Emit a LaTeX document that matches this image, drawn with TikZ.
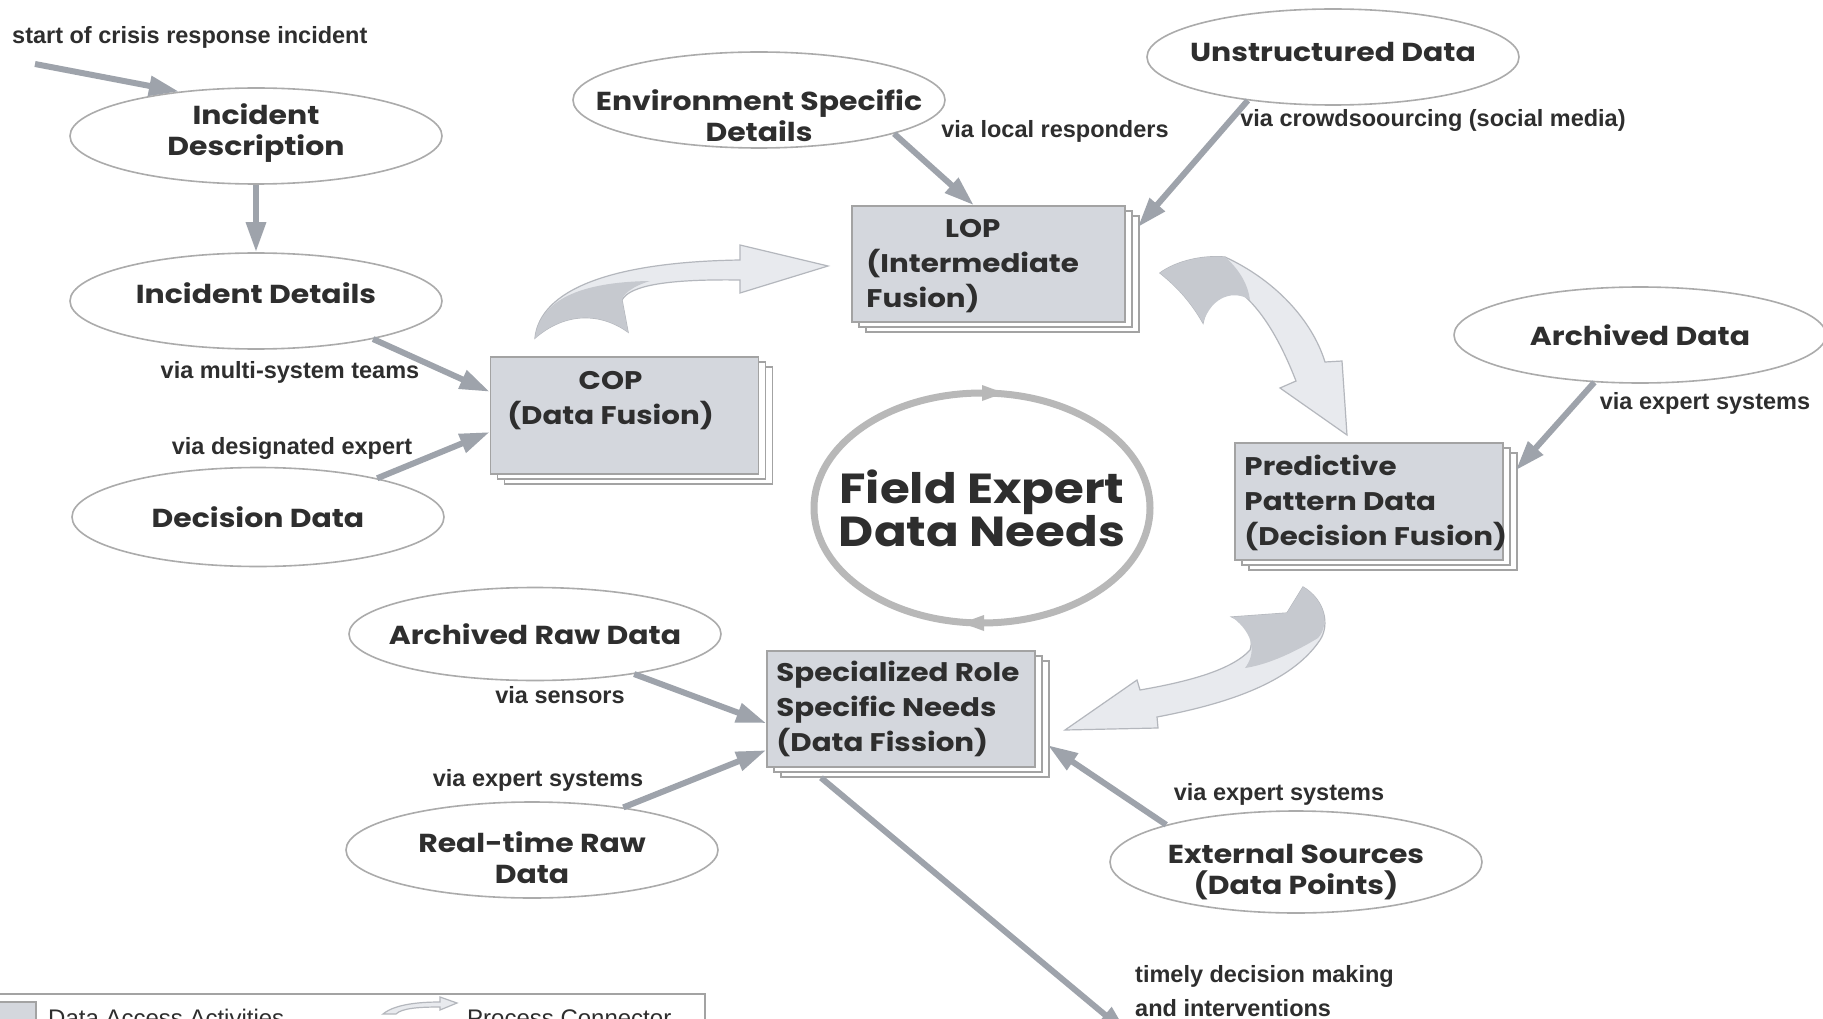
\documentclass[tikz,border=0pt]{standalone}
\usepackage{fontspec}
\setmainfont{Liberation Sans}
\newfontfamily\rndfont{Poppins}[FakeStretch=1.15]
\usetikzlibrary{shapes.geometric,arrows.meta,positioning,shadows}
\definecolor{flowgray}{HTML}{9EA3AB}
\definecolor{ellgray}{HTML}{ABABAB}
\definecolor{boxfill}{HTML}{D4D7DD}
\definecolor{boxline}{HTML}{A3A3A3}
\definecolor{inkdark}{HTML}{2E2E2E}
\definecolor{connlight}{HTML}{E8EAEE}
\definecolor{connedge}{HTML}{B4B7BD}
\definecolor{conndark}{HTML}{C6C9CF}
\definecolor{ringgray}{HTML}{B8B8B8}
\tikzset{
  dataell/.style={ellipse, draw=ellgray, line width=1.6pt, fill=white,
    minimum width=372pt, minimum height=96pt, inner sep=0pt},
  elltext/.style={font=\rndfont\bfseries\fontsize{26}{31}\selectfont,
    text=inkdark, align=center},
  stackbox/.style={rectangle, draw=boxline, line width=1.5pt, fill=boxfill,
    minimum width=268pt, minimum height=116pt,
    copy shadow={shadow xshift=14pt, shadow yshift=-10pt, fill=white, draw=boxline, line width=1.2pt},
    copy shadow={shadow xshift=7pt, shadow yshift=-5pt, fill=white, draw=boxline, line width=1.2pt}},
  boxtext/.style={font=\rndfont\bfseries\fontsize{25.5}{35}\selectfont,
    text=inkdark, inner sep=0pt},
  via/.style={font=\bfseries\fontsize{23.5}{34}\selectfont, text=inkdark, inner sep=0pt},
  legtext/.style={font=\fontsize{24}{28}\selectfont, text=inkdark, inner sep=0pt, anchor=base west},
  flow/.style={draw=flowgray, line width=6pt, -{Triangle[length=30pt,width=19pt]}},
  conn/.style={fill=connlight, draw=connedge, line width=1.2pt},
  connshade/.style={fill=conndark},
}
\begin{document}
\begin{tikzpicture}[x=1pt,y=-1pt]
\clip (0,0) rectangle (1823,1019);
\fill[white] (0,0) rectangle (1823,1019);

% data access ellipses
\node[dataell, label={[elltext, yshift=3pt]center:Incident\\Description}] (idesc) at (256,136) {};
\node[dataell, label={[elltext, yshift=8pt]center:Incident Details}] (idet) at (256,301) {};
\node[dataell, minimum height=99pt, label={[elltext]center:Decision Data}] (ddata) at (258,517) {};
\node[dataell, label={[elltext, yshift=-16pt]center:Environment Specific\\Details}] (envsp) at (759,100) {};
\node[dataell, label={[elltext, yshift=5pt]center:Unstructured Data}] (unstr) at (1333,57) {};
\node[dataell, label={[elltext]center:Archived Data}] (archd) at (1640,335) {};
\node[dataell, minimum height=93pt, label={[elltext]center:Archived Raw Data}] (archraw) at (535,634) {};
\node[dataell, label={[elltext, yshift=-8pt]center:Real-time Raw\\Data}] (rtraw) at (532,850) {};
\node[dataell, minimum height=102pt, label={[elltext, yshift=-10pt]center:External Sources\\(Data Points)}] (extsrc) at (1296,862) {};

% fusion boxes
\node[stackbox, minimum height=117pt] (cop) at (624.5,415.5) {};
\node[boxtext, align=center, below=15pt of cop.north, xshift=-14pt] (coptxt) {COP\\(Data Fusion)};
\node[stackbox, minimum width=273pt] (lop) at (988.5,264) {};
\node[boxtext, below right=8pt and 15pt of lop.north west] (loptxt)
  {\begin{tabular}{@{}l@{}}\multicolumn{1}{@{}c@{}}{LOP}\\(Intermediate\\Fusion)\end{tabular}};
\node[stackbox, minimum height=117pt] (pred) at (1369,501.5) {};
\node[boxtext, below right=9pt and 10pt of pred.north west] (predtxt)
  {\begin{tabular}{@{}l@{}}Predictive\\Pattern Data\\(Decision Fusion)\end{tabular}};
\node[stackbox] (spec) at (901,709) {};
\node[boxtext, below right=7pt and 10pt of spec.north west] (spectxt)
  {\begin{tabular}{@{}l@{}}Specialized Role\\Specific Needs\\(Data Fission)\end{tabular}};

% centre ring
\draw[ringgray, line width=7pt] (982,508) ellipse (168 and 115);
\fill[ringgray] (982,385) -- (1004,393) -- (982,401) -- cycle;
\fill[ringgray] (984,615) -- (962,623) -- (984,631) -- cycle;
\node[font=\rndfont\bfseries\fontsize{42}{41}\selectfont, text=inkdark, align=center] (needs) at (982,508) {Field Expert\\Data Needs};

% process connectors
\fill[conn] (535,338) .. controls (540,290) and (610,262) .. (740,260) -- (740,245) -- (828,266) -- (740,293) -- (740,280)
  .. controls (670,279) and (630,285) .. (622,300) -- (628,332) .. controls (600,312) and (565,312) .. (535,338) -- cycle;
\fill[connshade] (535,338) .. controls (540,300) and (580,282) .. (650,281) .. controls (630,287) and (622,296) .. (622,300)
  -- (628,332) .. controls (600,312) and (565,312) .. (535,338) -- cycle;
\fill[conn] (1160,273) .. controls (1175,262) and (1200,255) .. (1225,257) .. controls (1275,280) and (1312,320) .. (1325,362)
  -- (1342,361) -- (1347,435) -- (1280,388) -- (1296,381) .. controls (1280,340) and (1262,310) .. (1240,292)
  .. controls (1220,290) and (1208,300) .. (1203,323) .. controls (1190,300) and (1175,285) .. (1160,273) -- cycle;
\fill[connshade] (1160,273) .. controls (1175,262) and (1200,255) .. (1225,257) .. controls (1240,270) and (1248,285) .. (1250,300)
  .. controls (1235,290) and (1212,295) .. (1203,323) .. controls (1190,300) and (1175,285) .. (1160,273) -- cycle;
\fill[conn] (1232,617) -- (1287,613) -- (1303,587) .. controls (1325,600) and (1330,625) .. (1320,640)
  .. controls (1290,685) and (1220,705) .. (1157,717) -- (1158,728) -- (1065,730) -- (1137,680) -- (1140,690)
  .. controls (1180,683) and (1230,672) .. (1250,650) .. controls (1255,635) and (1245,622) .. (1232,617) -- cycle;
\fill[connshade] (1232,617) -- (1287,613) -- (1303,587) .. controls (1325,600) and (1330,625) .. (1318,638)
  .. controls (1290,655) and (1265,665) .. (1245,668) .. controls (1255,655) and (1256,635) .. (1232,617) -- cycle;

% access arrows
\coordinate (s0) at (35,64);
\coordinate (tout) at (1128,1034);
\draw[flow] (s0) -- (idesc.150);
\draw[flow] (idesc.south) -- (idet.north);
\draw[flow] (idet.-18) -- (cop.170);
\draw[flow] (ddata.18) -- (cop.187);
\draw[flow] (envsp.-14) -- (lop.104);
\draw[flow] (unstr.207) -- ([xshift=12pt]lop.15);
\draw[flow] (archd.-134) -- ([xshift=12pt]pred.13);
\draw[flow] (archraw.-22) -- (spec.186);
\draw[flow] (rtraw.25) -- (spec.197);
\draw[flow] (extsrc.164) -- ([xshift=12pt]spec.-15);
\draw[flow] ([xshift=-80pt,yshift=-10pt]spec.south) -- (tout);

% access labels
\node[via, anchor=west] (startlbl) at (12,37) {start of crisis response incident};
\node[via] (vteams) at (290,372) {via multi-system teams};
\node[via] (vexpert) at (292,448) {via designated expert};
\node[via] (vlocal) at (1055,131) {via local responders};
\node[via] (vcrowd) at (1433,120) {via crowdsoourcing (social media)};
\node[via] (vsys1) at (1705,403) {via expert systems};
\node[via] (vsens) at (560,695) {via sensors};
\node[via] (vsys2) at (538,780) {via expert systems};
\node[via] (vsys3) at (1279,794) {via expert systems};
\node[via, align=left, anchor=west] (vtimely) at (1135,991) {timely decision making\\and interventions};

% legend
\draw[boxline, line width=1.5pt, fill=white] (-2,994) rectangle (705,1050) node[pos=0] (legbox) {};
\draw[boxline, line width=1.2pt, fill=boxfill] (-4,1002) rectangle (36,1050) node[pos=0] (legsq) {};
\node[legtext] (legdata) at (48,1026) {Data Access Activities};
\fill[conn] (383,1014) .. controls (395,1004) and (420,1002) .. (440,1002) -- (440,997) -- (457,1003) -- (440,1010)
  -- (440,1007) .. controls (420,1007) and (402,1008) .. (396,1014) -- cycle;
\node[legtext] (legproc) at (467,1026) {Process Connector};
\end{tikzpicture}
\end{document}
